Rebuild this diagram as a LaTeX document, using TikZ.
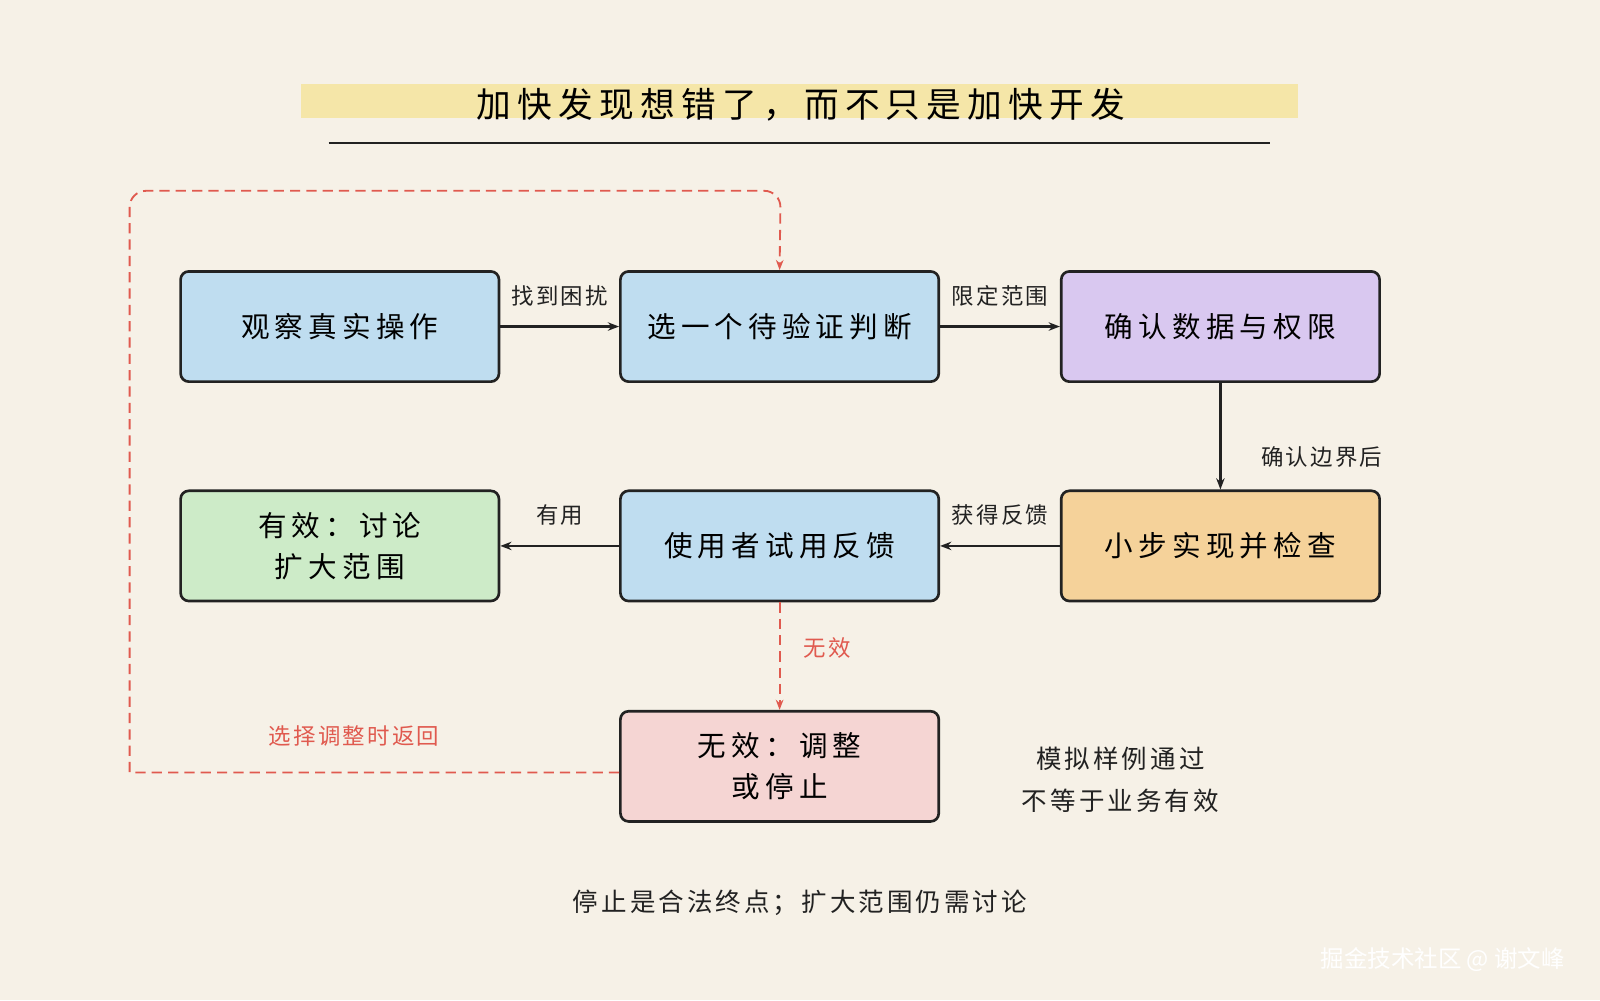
\documentclass[tikz,border=0pt]{standalone}
\usepackage{fontspec}
\setmainfont{Noto Sans CJK SC}
\usetikzlibrary{arrows.meta}
\definecolor{bg}{HTML}{F6F1E7}
\definecolor{cblue}{HTML}{BFDDF0}
\definecolor{cpurple}{HTML}{D9C8F0}
\definecolor{corange}{HTML}{F5D29A}
\definecolor{cgreen}{HTML}{CDEBC8}
\definecolor{cpink}{HTML}{F5D5D3}
\definecolor{hl}{HTML}{F5E6A8}
\definecolor{cred}{HTML}{E05A4F}
\definecolor{ink}{HTML}{222222}
\begin{document}
\begin{tikzpicture}[x=0.5pt,y=-0.5pt,
  box/.style={draw=ink,line width=1.3pt,rounded corners=4pt,minimum width=156pt,minimum height=54pt,inner sep=0pt,align=center,font=\fontsize{14}{20}\selectfont\addfontfeatures{LetterSpace=18}},
  arr/.style={-{Stealth[length=5.5pt]},line width=1.1pt,draw=ink},
  lab/.style={font=\fontsize{11}{13}\selectfont\addfontfeatures{LetterSpace=10},text=ink},
  reddash/.style={draw=cred,line width=0.9pt,dash pattern=on 5pt off 3pt}]
\useasboundingbox (0,0) rectangle (1568,980);
\fill[bg] (0,0) rectangle (1568,980);
\fill[hl] (295,82) rectangle (1272,116);
\node (title) at (785,103) {\fontsize{17}{20}\selectfont\addfontfeatures{LetterSpace=18}加快发现想错了，而不只是加快开发};
\draw[ink,line width=0.8pt] (322,140) -- (1245,140);
\node[box,fill=cblue] (a) at (333,320) {观察真实操作};
\node[box,fill=cblue] (b) at (764,320) {选一个待验证判断};
\node[box,fill=cpurple] (c) at (1196,320) {确认数据与权限};
\node[box,fill=corange] (d) at (1196,535) {小步实现并检查};
\node[box,fill=cblue] (e) at (764,535) {使用者试用反馈};
\node[box,fill=cgreen] (f) at (333,535) {有效：讨论\\扩大范围};
\node[box,fill=cpink] (g) at (764,751) {无效：调整\\或停止};
\draw[arr] (a) -- node[lab,above=6pt]{找到困扰} (b);
\draw[arr] (b) -- node[lab,above=6pt]{限定范围} (c);
\draw[arr] (c) -- node[lab,right=16pt,yshift=-10pt]{确认边界后} (d);
\draw[arr] (d) -- node[lab,above=6pt]{获得反馈} (e);
\draw[arr] (e) -- node[lab,above=6pt]{有用} (f);
\draw[reddash,-{Stealth[length=5pt]}] (e) -- node[lab,text=cred,right=8pt,yshift=4pt]{无效} (g);
\coordinate (p1) at (127,757);
\coordinate (p2) at (127,187);
\coordinate (p3) at (765,187);
\draw[reddash,-{Stealth[length=5pt]}] (g.west|-p1) -- (p1) [rounded corners=8pt]-- (p2) -- (p3) [sharp corners]-- (b.north);
\node[lab,text=cred] (r) at (347,721) {选择调整时返回};
\node[lab,align=center,font=\fontsize{12.5}{20.5}\selectfont\addfontfeatures{LetterSpace=12}] (n) at (1098,764) {模拟样例通过\\不等于业务有效};
\node[lab,font=\fontsize{12.5}{15}\selectfont\addfontfeatures{LetterSpace=12}] (foot) at (784,885) {停止是合法终点；扩大范围仍需讨论};
\node[font=\fontsize{11.5}{13}\selectfont,text=white] (wm) at (1414,940) {掘金技术社区 @ 谢文峰};
\end{tikzpicture}
\end{document}
